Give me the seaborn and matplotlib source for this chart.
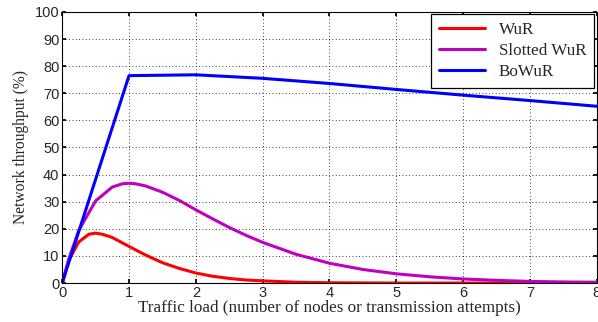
import numpy as np
import pandas as pd
import matplotlib
matplotlib.use("Agg")
import matplotlib.pyplot as plt
import seaborn as sns

sns.set_theme(style="white")

# values
load_wur = [0, 0.1, 0.25, 0.4, 0.5, 0.6, 0.75, 1.0, 1.25, 1.5, 1.75, 2.0, 2.25, 2.5, 2.75, 3.0, 3.5, 4.0, 5.0, 6.0, 7.0, 8.0]
thr_wur = [0, 8.5, 15.2, 18.0, 18.4, 18.0, 16.8, 13.5, 10.3, 7.5, 5.4, 3.7, 2.5, 1.7, 1.1, 0.8, 0.3, 0.1, 0.0, 0.0, 0.0, 0.0]

load_slot = [0, 0.1, 0.25, 0.5, 0.75, 0.9, 1.0, 1.1, 1.25, 1.5, 1.75, 2.0, 2.25, 2.5, 2.75, 3.0, 3.5, 4.0, 4.5, 5.0, 5.5, 6.0, 6.5, 7.0, 7.5, 8.0]
thr_slot = [0, 9.0, 19.5, 30.3, 35.4, 36.6, 36.8, 36.6, 35.8, 33.5, 30.5, 27.0, 23.7, 20.5, 17.6, 15.0, 10.6, 7.3, 5.0, 3.4, 2.3, 1.5, 1.0, 0.6, 0.4, 0.3]

load_bo = [0, 1, 2, 3, 4, 5, 6, 7, 8]
thr_bo = [0, 76.5, 76.8, 75.5, 73.6, 71.4, 69.3, 67.3, 65.2]

df = pd.concat([
    pd.DataFrame({"load": load_wur, "thr": thr_wur, "scheme": "WuR"}),
    pd.DataFrame({"load": load_slot, "thr": thr_slot, "scheme": "Slotted WuR"}),
    pd.DataFrame({"load": load_bo, "thr": thr_bo, "scheme": "BoWuR"}),
])

fig = plt.figure(figsize=(5.98, 3.22), dpi=100)
ax = fig.add_axes([0.104, 0.121, 0.894, 0.842])

sns.lineplot(data=df, x="load", y="thr", hue="scheme",
             palette={"WuR": "#ff0000", "Slotted WuR": "#bf00bf", "BoWuR": "#0000ff"},
             linewidth=2.2, ax=ax, sort=False, estimator=None)

ax.set_xlim(0, 8)
ax.set_ylim(0, 100)
ax.set_xticks(range(0, 9))
ax.set_yticks(range(0, 101, 10))
ax.grid(True, linestyle=(0, (1, 3)), color="black", linewidth=0.6)
for s in ax.spines.values():
    s.set_color("black")
    s.set_linewidth(0.8)
ax.tick_params(direction="in", length=3, color="black", labelsize=10.5,
               top=True, right=True, bottom=True, left=True, pad=2)
for lab in ax.get_xticklabels() + ax.get_yticklabels():
    lab.set_family("Liberation Sans")

ax.set_xlabel("Traffic load (number of nodes or transmission attempts)",
              family="Liberation Serif", fontsize=12.3, labelpad=0)
ax.set_ylabel("Network throughput (%)", family="Liberation Serif", fontsize=11.2, labelpad=4)

leg = ax.legend(loc="upper right", fancybox=False, framealpha=1, edgecolor="black",
                prop={"family": "Liberation Serif", "size": 12.3}, handlelength=2.7,
                borderaxespad=0.15, labelspacing=0.3, borderpad=0.45)
leg.get_frame().set_linewidth(0.9)
leg.set_title(None)

fig.savefig("out.png", dpi=100)
